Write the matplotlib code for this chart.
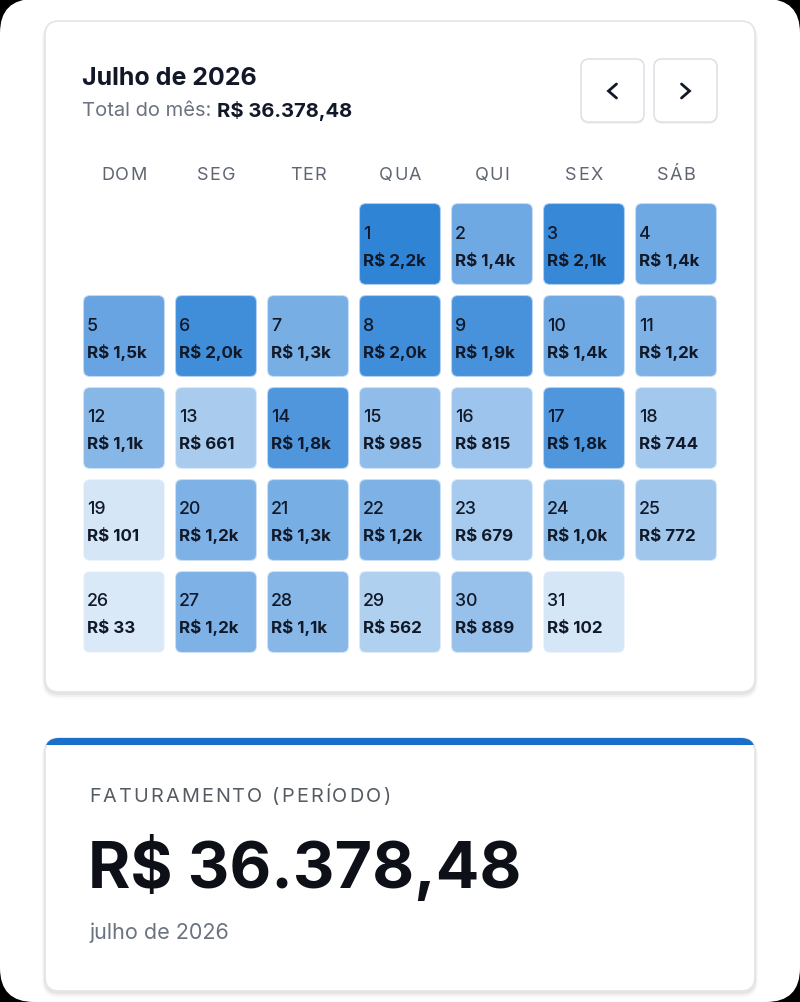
import numpy as np
import matplotlib.pyplot as plt
from matplotlib.patches import FancyBboxPatch, Rectangle

plt.rcParams['font.family'] = ['Inter', 'DejaVu Sans']

# --- data ---
month_title = "Julho de 2026"
total_label = "R$ 36.378,48"
period_label = "julho de 2026"
weekdays = ["DOM", "SEG", "TER", "QUA", "QUI", "SEX", "SÁB"]
first_weekday = 3  # 1 de julho de 2026 = quarta
days = list(range(1, 32))
values = [2200, 1400, 2100, 1400, 1500, 2000, 1300, 2000, 1900, 1400,
          1200, 1100, 661, 1800, 985, 815, 1800, 744, 101, 1200,
          1300, 1200, 679, 1000, 772, 33, 1200, 1100, 562, 889, 102]

W, H = 800, 1003
fig = plt.figure(figsize=(W / 100, H / 100), dpi=100, facecolor='black')
ax = fig.add_axes([0, 0, 1, 1])
ax.set_xlim(0, W)
ax.set_ylim(H, 0)
ax.axis('off')
renderer = fig.canvas.get_renderer()


def rbox(x, y, w, h, r, fc, ec='none', lw=0, z=1):
    p = FancyBboxPatch((x, y), w, h, boxstyle=f"round,pad=0,rounding_size={r}",
                       fc=fc, ec=ec, lw=lw, zorder=z)
    ax.add_patch(p)
    return p


def text_width(t):
    bb = t.get_window_extent(renderer)
    inv = ax.transData.inverted()
    return inv.transform((bb.x1, 0))[0] - inv.transform((bb.x0, 0))[0]


def spaced(x, y, s, spacing, ha='left', **kw):
    # draw text char by char with extra letter spacing
    widths = []
    for ch in s:
        t = ax.text(0, y, ch, **kw)
        widths.append(text_width(t) if ch != ' ' else kw.get('fontsize', 12) * 0.38)
        t.remove()
    total = sum(widths) + spacing * (len(s) - 1)
    if ha == 'center':
        x = x - total / 2
    for ch, w in zip(s, widths):
        ax.text(x, y, ch, ha='left', va='center', **kw)
        x += w + spacing


# screen
rbox(0, 0, W, H, 34, '#ffffff', z=0)


def card(x, y, w, h):
    for i, a in enumerate([0.05, 0.035, 0.02]):
        rbox(x - 1 - i, y + 1, w + 2 + 2 * i, h + 2 + 2 * i, 15 + i, (0, 0, 0, a), z=1)
    return rbox(x, y, w, h, 14, '#ffffff', ec='#e3e5e8', lw=1.2, z=2)


# --- calendar card ---
card(45, 22, 710, 671)
ax.text(82, 78.5, month_title, fontsize=18, fontweight='bold', color='#111827',
        va='center', ha='left', zorder=5)
t1 = ax.text(82, 111, "Total do mês: ", fontsize=14.5, color='#6b7280',
             va='center', ha='left', zorder=5)
ax.text(82 + text_width(t1), 111, total_label, fontsize=14.5, fontweight='bold',
        color='#111827', va='center', ha='left', zorder=5)

# nav buttons
for bx, sgn in [(581, -1), (654, 1)]:
    rbox(bx, 62, 63, 63, 8, (0, 0, 0, 0.05), z=3)
    rbox(bx, 60, 63, 63, 8, '#ffffff', ec='#dcdfe3', lw=1.1, z=4)
    cx, cy = bx + 31.5, 92
    ax.plot([cx - sgn * 4, cx + sgn * 4, cx - sgn * 4], [cy - 7, cy, cy + 7],
            color='#111827', lw=2, solid_capstyle='round', solid_joinstyle='miter', zorder=5)

# grid
gx0, gy0, pitch, cell = 83, 204, 92, 82
for i, wd in enumerate(weekdays):
    spaced(gx0 + cell / 2 + i * pitch, 175, wd, 1.2, ha='center', fontsize=13,
           color='#5f6672', zorder=5)

vmax = max(values)
base = np.array([25, 118, 210]) / 255
for d, v in zip(days, values):
    k = first_weekday + d - 1
    col, row = k % 7, k // 7
    x = gx0 + col * pitch
    y = gy0 + row * pitch
    a = 0.15 + 0.75 * v / vmax
    fc = 1 - a * (1 - base)
    rbox(x, y, cell, cell, 7, fc, ec=(1, 1, 1, 0.6), lw=1.5, z=3)
    ax.text(x + 4, y + 30, str(d), fontsize=12.8, fontweight='medium', color='#111827',
            ha='left', va='center', zorder=5)
    if v >= 1000:
        lab = f"R$ {v / 1000:.1f}k".replace('.', ',')
    else:
        lab = f"R$ {v:.0f}"
    ax.text(x + 4, y + 56, lab, fontsize=12.2, fontweight='bold', color='#111827',
            ha='left', va='center', zorder=5)

# --- summary card ---
c2 = card(45, 739, 710, 253)
top = rbox(45, 739, 710, 253, 14, '#1a6fca', z=3)
top.set_clip_path(Rectangle((0, 739), W, 7, transform=ax.transData))
spaced(89, 797, "FATURAMENTO (PERÍODO)", 2.1, fontsize=14.3, color='#555b65', zorder=5)
ax.text(88, 868, total_label, fontsize=46.5, fontweight='bold', color='#0d1117',
        ha='left', va='center', zorder=5)
ax.text(89, 933, period_label, fontsize=15.5, color='#6b7280', ha='left',
        va='center', zorder=5)

fig.savefig('out.png', dpi=100, facecolor='black')
